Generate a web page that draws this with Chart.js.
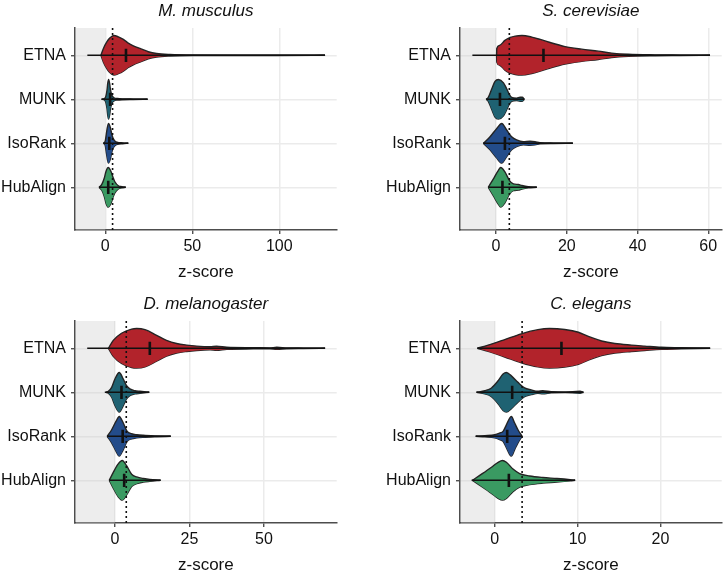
<!DOCTYPE html>
<html>
<head>
<meta charset="utf-8">
<script src="https://cdn.jsdelivr.net/npm/chart.js@4.4.1/dist/chart.umd.min.js"></script>
<style>
  html, body { margin: 0; padding: 0; background: #fff; width: 725px; height: 574px; overflow: hidden; }
  canvas { position: absolute; }
</style>
</head>
<body>
<canvas id="c-mm" width="340" height="287" style="left:0;top:0"></canvas>
<canvas id="c-sc" width="340" height="287" style="left:385px;top:0"></canvas>
<canvas id="c-dm" width="340" height="287" style="left:0;top:293px"></canvas>
<canvas id="c-ce" width="340" height="287" style="left:385px;top:293px"></canvas>
<script>
const methods = ['ETNA', 'MUNK', 'IsoRank', 'HubAlign'];

// violin outlines: [z-score, relative width]
const mmEtna = [[-2.5,0],[-1.0,0.36],[0.8,0.66],[2.3,0.85],[3.7,0.95],[5.0,1],[7.5,0.93],[10.4,0.8],[13,0.63],[16.1,0.48],[20.9,0.31],[24.7,0.18],[29.5,0.09],[37.2,0.04],[50.6,0.015],[80,0.008],[120,0.005],[126.3,0]];
const mmMunk = [[-2.1,0],[-0.5,0.03],[0.3,0.15],[1.0,0.47],[1.4,0.8],[1.9,1],[2.5,0.8],[3.0,0.47],[3.8,0.2],[5,0.08],[7,0.04],[10,0.02],[16,0.01],[24.3,0]];
const mmIso = [[-1.1,0],[0,0.12],[0.6,0.47],[1.2,0.8],[1.8,1],[2.9,0.8],[3.7,0.47],[4.5,0.25],[5.5,0.12],[7,0.05],[10,0.02],[13.2,0]];
const mmHub = [[-3.6,0],[-2,0.15],[-0.55,0.47],[0.4,0.8],[1.7,1],[3.3,0.8],[4.6,0.47],[5.5,0.28],[7.5,0.08],[9.5,0.03],[11.7,0]];

const scEtna = [[0.15,0],[0.2,0.34],[1,0.5],[2.5,0.75],[4,0.9],[5.4,0.97],[7.3,1],[10.1,0.92],[12.5,0.8],[14.8,0.67],[19.5,0.44],[24.2,0.31],[28.9,0.21],[32.7,0.11],[37.4,0.05],[44.9,0.02],[52,0.01],[60.5,0]];
const scMunk = [[-2.8,0],[-2.2,0.1],[-1.2,0.53],[-0.3,0.9],[0.65,1],[2.1,0.83],[3.0,0.53],[3.8,0.23],[4.4,0.1],[5.8,0.06],[6.8,0.1],[7.4,0.1],[8.0,0]];
const scIso = [[-3.6,0],[-1.7,0.33],[0.2,0.75],[1.6,1],[3.0,0.67],[4.4,0.33],[5.8,0.17],[7.7,0.08],[9.6,0.1],[11,0.08],[12.4,0.03],[16.2,0.01],[21.7,0]];
const scHub = [[-2.2,0],[-0.75,0.43],[0.65,0.86],[1.3,1],[2.5,0.78],[3.8,0.34],[4.9,0.17],[6.3,0.14],[7.3,0.09],[9.1,0.03],[11.5,0]];

const dmEtna = [[-2.2,0],[-0.56,0.4],[2.2,0.76],[5.6,0.97],[7.3,1],[10.1,0.94],[14,0.65],[17.3,0.4],[20.7,0.24],[24.1,0.16],[27.4,0.11],[31.9,0.08],[34.1,0.1],[37.5,0.05],[46.4,0.03],[52,0.02],[54.3,0.05],[57.6,0.02],[63.2,0.01],[70.5,0]];
const dmMunk = [[-3.0,0],[-2.2,0.05],[-1.1,0.25],[0,0.67],[1.45,1],[2.8,0.67],[3.9,0.33],[5.0,0.17],[6.7,0.08],[8.4,0.05],[11.5,0]];
const dmIso = [[-2.6,0],[-1.1,0.33],[0.34,0.75],[1.45,1],[2.8,0.67],[4.1,0.25],[5.6,0.13],[7.3,0.08],[9.5,0.05],[14,0.02],[18.7,0]];
const dmHub = [[-1.9,0],[-0.56,0.4],[1.1,0.83],[2.45,1],[3.9,0.74],[5.6,0.31],[7.3,0.17],[9.5,0.09],[11.7,0.05],[15.3,0]];

const ceEtna = [[-2.1,0],[-0.8,0.16],[1.2,0.44],[3.2,0.73],[5.2,0.94],[6.6,1],[8.45,0.95],[10.1,0.81],[11.3,0.6],[12.9,0.37],[14.5,0.24],[16.5,0.16],[18.1,0.11],[20.1,0.05],[22.5,0.03],[26,0]];
const ceMunk = [[-2.2,0],[-1.2,0.08],[-0.4,0.22],[0.4,0.58],[1.0,0.92],[1.4,1],[2.0,0.83],[2.8,0.5],[3.6,0.22],[4.4,0.12],[5.2,0.05],[5.8,0.08],[6.8,0.03],[8.5,0.01],[10.3,0.05],[10.7,0]];
const ceIso = [[-2.3,0],[-1.2,0.03],[0,0.08],[0.6,0.17],[1.0,0.25],[1.4,0.58],[1.8,0.92],[2.0,1],[2.4,0.67],[2.8,0.33],[3.3,0]];
const ceHub = [[-2.7,0],[-1.6,0.31],[-0.4,0.66],[0.4,0.91],[0.93,1],[1.4,0.91],[2.2,0.57],[3.0,0.34],[4.2,0.22],[5.8,0.14],[7.5,0.09],[9.1,0.03],[9.7,0]];

// whisker ranges (min, max) and mean marks, in method order
const mmRange = [[-10.3,126.3],[-2.1,24.3],[-1.1,13.2],[-3.6,11.7]];
const scRange = [[-6.7,60.5],[-2.8,8.0],[-3.6,21.7],[-2.2,11.5]];
const dmRange = [[-9.3,70.5],[-3.4,11.5],[-2.6,18.7],[-1.9,15.3]];
const ceRange = [[-2.1,26.0],[-2.2,10.7],[-2.3,3.3],[-2.8,9.7]];
const mmMean = [11.9, 2.8, 2.3, 1.7];
const scMean = [13.4, 1.1, 2.5, 1.8];
const dmMean = [11.7, 2.2, 2.6, 3.1];
const ceMean = [8.05, 2.1, 1.5, 1.7];

// dotted threshold line per panel
const thresholds = [4.2, 3.75, 3.8, 3.3];

// x tick labels per panel
const mmTicks = [0, 50, 100];
const scTicks = [0, 20, 40, 60];
const dmTicks = [0, 25, 50];
const ceTicks = [0, 10, 20];

const methodColors = ['#B2232B', '#1F6272', '#234C8A', '#3A9A62'];
const FONT = "'Liberation Sans', Arial, Helvetica, sans-serif";
const HALF = 0.45;
const Y_MIN = -0.62, Y_MAX = 3.97;

Chart.defaults.font.family = FONT;
Chart.defaults.color = '#111';

const shadePlugin = {
  id: 'shade',
  beforeDatasetsDraw(chart) {
    const { ctx, chartArea, scales } = chart;
    const x0 = scales.x.getPixelForValue(0);
    ctx.save();
    ctx.fillStyle = 'rgba(205,205,205,0.36)';
    ctx.fillRect(chartArea.left + 1, chartArea.top, x0 - chartArea.left - 1, chartArea.bottom - chartArea.top);
    ctx.restore();
  }
};

function buildDatasets(shapes, ranges, means, thr) {
  const sets = [];
  shapes.forEach((shape, i) => {
    const common = { borderColor: '#242424', borderWidth: 1.4, pointRadius: 0, pointHitRadius: 0,
      cubicInterpolationMode: 'monotone', order: 3 };
    sets.push({ ...common, data: shape.map(([z, w]) => ({ x: z, y: i - w * HALF })),
      backgroundColor: methodColors[i], fill: '+1' });
    sets.push({ ...common, data: shape.map(([z, w]) => ({ x: z, y: i + w * HALF })), fill: false });
  });
  ranges.forEach(([lo, hi], i) => {
    sets.push({ data: [{ x: lo, y: i }, { x: hi, y: i }], borderColor: '#111', borderWidth: 1.5,
      pointRadius: 0, fill: false, order: 2 });
  });
  means.forEach((m, i) => {
    sets.push({ data: [{ x: m, y: i - 0.15 }, { x: m, y: i + 0.15 }], borderColor: '#111', borderWidth: 2.6,
      pointRadius: 0, fill: false, order: 1 });
  });
  sets.push({ data: [{ x: thr, y: Y_MIN }, { x: thr, y: Y_MAX }], borderColor: '#111', borderWidth: 1.6,
    borderDash: [2, 3], pointRadius: 0, fill: false, order: 0 });
  return sets;
}

function renderPanel(id, title, shapes, ranges, means, thr, ticks, xMin, xMax) {
  new Chart(document.getElementById(id), {
    type: 'line',
    data: { datasets: buildDatasets(shapes, ranges, means, thr) },
    plugins: [shadePlugin],
    options: {
      responsive: false,
      animation: false,
      devicePixelRatio: 1,
      layout: { padding: { top: 0, right: 3.3, bottom: 0, left: 0 } },
      plugins: {
        legend: { display: false },
        tooltip: { enabled: false },
        title: { display: true, text: title, fullSize: false, color: '#111',
          font: { size: 17, style: 'italic', weight: 'normal' }, padding: { top: 1.1, bottom: 6.5 } }
      },
      scales: {
        x: {
          type: 'linear', min: xMin, max: xMax,
          afterBuildTicks: s => { s.ticks = ticks.map(v => ({ value: v })); },
          afterFit: s => { s.height = 57; },
          grid: { color: '#EBEBEB', lineWidth: 1.5, tickColor: '#333', tickLength: 4, tickWidth: 1.2 },
          border: { display: true, color: '#4d4d4d', width: 1.5 },
          ticks: { font: { size: 16 }, color: '#111', padding: 3, maxRotation: 0, autoSkip: false },
          title: { display: true, text: 'z-score', color: '#111', font: { size: 17 }, padding: { top: 0, bottom: 4.8 } }
        },
        y: {
          type: 'linear', reverse: true, min: Y_MIN, max: Y_MAX,
          afterBuildTicks: s => { s.ticks = methods.map((m, i) => ({ value: i })); },
          afterFit: s => { s.width = 75; },
          grid: { color: '#EBEBEB', lineWidth: 1.5, tickColor: '#333', tickLength: 4, tickWidth: 1.2 },
          border: { display: true, color: '#4d4d4d', width: 1.5 },
          ticks: { font: { size: 16 }, color: '#111', padding: 5, autoSkip: false,
            callback: v => methods[v] }
        }
      }
    }
  });
}

renderPanel('c-mm', 'M. musculus', [mmEtna, mmMunk, mmIso, mmHub], mmRange, mmMean, thresholds[0], mmTicks, -17.4, 133);
renderPanel('c-sc', 'S. cerevisiae', [scEtna, scMunk, scIso, scHub], scRange, scMean, thresholds[1], scTicks, -10.2, 63.8);
renderPanel('c-dm', 'D. melanogaster', [dmEtna, dmMunk, dmIso, dmHub], dmRange, dmMean, thresholds[2], dmTicks, -13.4, 74.4);
renderPanel('c-ce', 'C. elegans', [ceEtna, ceMunk, ceIso, ceHub], ceRange, ceMean, thresholds[3], ceTicks, -4.2, 27.4);
</script>
</body>
</html>
